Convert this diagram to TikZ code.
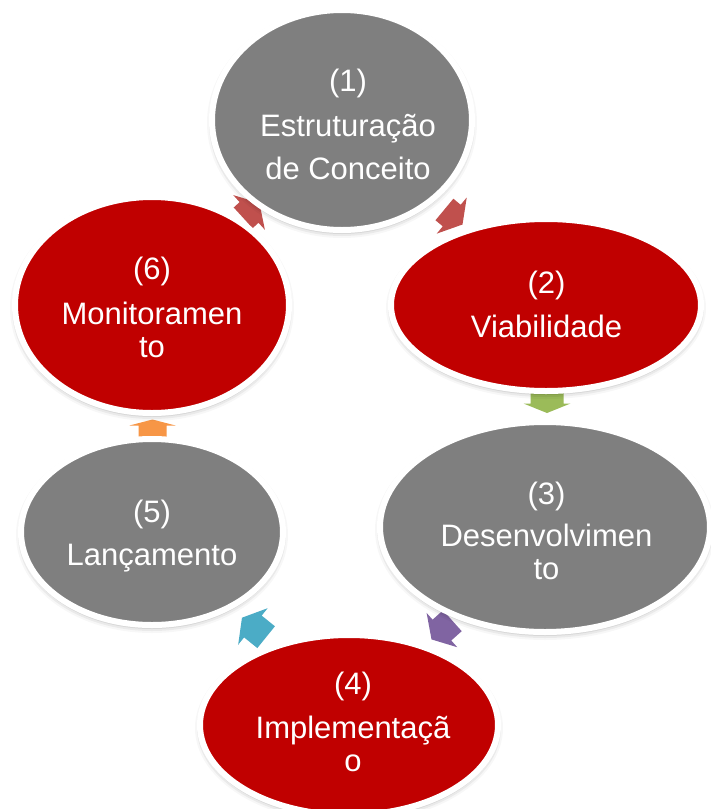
\documentclass[tikz,border=0pt]{standalone}
\usepackage{fontspec}
\setmainfont{Liberation Sans}
\usetikzlibrary{shapes.geometric}
\definecolor{stagegray}{HTML}{7F7F7F}
\definecolor{stagered}{HTML}{C00000}
\definecolor{arrred}{HTML}{C0504D}
\definecolor{arrgreen}{HTML}{9BBB59}
\definecolor{arrpurple}{HTML}{8064A2}
\definecolor{arraqua}{HTML}{4BACC6}
\definecolor{arrorange}{HTML}{F79646}
% #1 colour, #2 tip coordinate, #3 angle, #4 head length, #5 half head width, #6 half shaft width, #7 shaft length
\newcommand{\blockarr}[7]{%
  \fill[#1, shift={(#2)}, rotate=#3] (0,0) -- (-#4,#5) -- (-#4,#6) -- ({-#4-#7},#6)
    -- ({-#4-#7},-#6) -- (-#4,-#6) -- (-#4,-#5) -- cycle;}
\begin{document}
\begin{tikzpicture}[x=1pt,y=-1pt,
  stage/.style={ellipse, draw=white, line width=6pt, inner sep=0pt, outer sep=0pt},
  stagetext/.style={text=white, font=\fontsize{31}{33}\selectfont, align=center, inner sep=0pt},
]
\fill[white] (0,0) rectangle (711,809);
\clip (0,0) rectangle (711,809);

% arrows (drawn first, partly covered by the stages)
\coordinate (a12) at (462.5,224.5);
\coordinate (a23) at (547,413);
\coordinate (a34) at (431.5,639.4);
\coordinate (a45) at (242,617.7);
\coordinate (a56) at (152.5,419.5);
\coordinate (a61) at (259.4,203);
\blockarr{arrred}{a12}{-39.7}{14}{23.5}{14}{9.5}
\blockarr{arrgreen}{a23}{-90}{9.5}{23.5}{16.5}{15}
\blockarr{arrpurple}{a34}{221.8}{14}{23}{14}{14}
\blockarr{arraqua}{a45}{141.1}{14}{23.5}{14}{17}
\blockarr{arrorange}{a56}{90}{6}{23}{14}{14}
\blockarr{arrred}{a61}{42.4}{14}{23.5}{14}{8}

% stages with soft shadow
\foreach \n/\cx/\cy/\rx/\ry/\col in {
  1/342/120/127/107/stagegray,
  2/546/305/152/83/stagered,
  3/545/527/162/102/stagegray,
  4/349/725/146/87/stagered,
  5/152/532/128/90/stagegray,
  6/152/305/134/105/stagered}{
  \foreach \d/\o in {2/0.10,4/0.07,6/0.05,8/0.03}{
    \fill[black, opacity=\o] (\cx,\cy+3) ellipse [x radius=\rx+\d, y radius=\ry+\d];
  }
  \node[stage, fill=\col, minimum width={2*(\rx+3)}, minimum height={2*(\ry+3)}] (e\n) at (\cx,\cy) {};
}

% texts
\node[stagetext] (t1) at (348,124) {(1)\\[12pt]Estruturação\\[10pt]de Conceito};
\node[stagetext] (t2) at (546.5,304) {(2)\\[11pt]Viabilidade};
\node[stagetext] (t3) at (546.5,531) {(3)\\[9pt]Desenvolvimen\\to};
\node[stagetext] (t4) at (353,722) {(4)\\[11pt]Implementaçã\\o};
\node[stagetext] (t5) at (152,536) {(5)\\[10pt]Lançamento};
\node[stagetext] (t6) at (152,307) {(6)\\[12pt]Monitoramen\\to};
\end{tikzpicture}
\end{document}
